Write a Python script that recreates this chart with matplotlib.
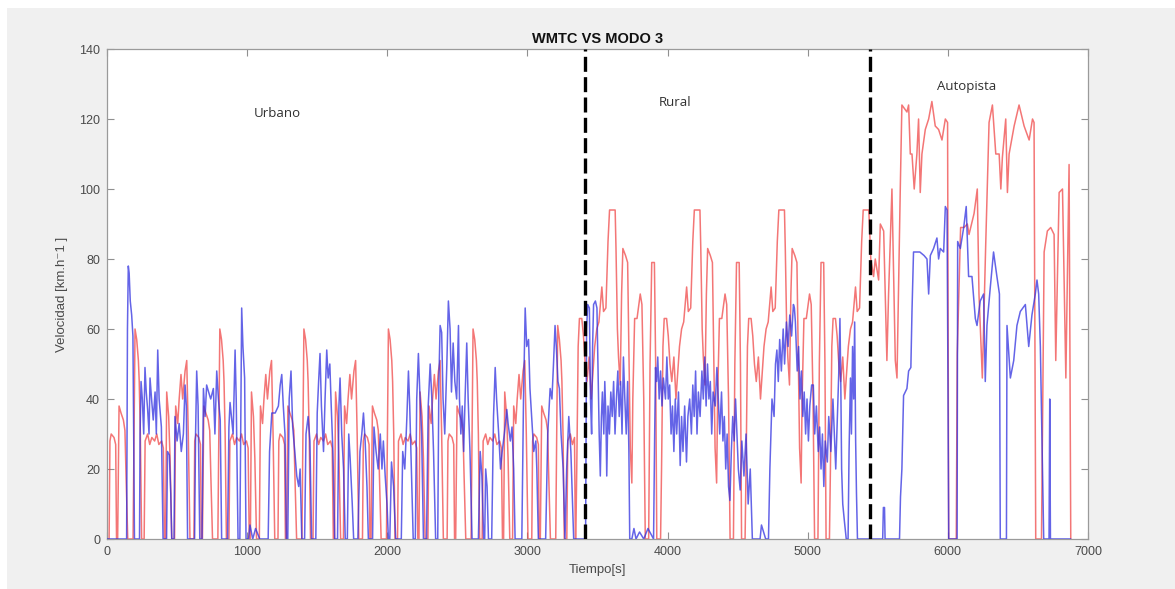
import matplotlib
matplotlib.use("Agg")
import matplotlib.pyplot as plt
from matplotlib.patches import Rectangle

# ---------------- data: (time [s], speed [km/h]) ----------------
red_urban = [
    (0, 0), (15, 0), (21, 28), (30, 30), (50, 29), (62, 27), (68, 0), (76, 0), (86, 38), (100, 36), (117, 34), (128, 31), (136, 18), (148, 0), (186, 0), (200, 60), (212, 57), (224, 51), (230, 45), (238, 30), (247, 0), (265, 0), (272, 28), (290, 30), (305, 27), (320, 29), (340, 28), (355, 30), (370, 27), (390, 28), (402, 26), (410, 0), (418, 0), (426, 42), (440, 35), (450, 23), (462, 0), (482, 0), (490, 38), (505, 33), (515, 40), (528, 47), (540, 40), (557, 48), (569, 51), (580, 30), (592, 0),
    (605, 0), (620, 0), (626, 28), (635, 30), (655, 29), (667, 27), (673, 0), (681, 0), (691, 38), (705, 36), (722, 34), (733, 31), (741, 18), (753, 0), (791, 0), (805, 60), (817, 57), (829, 51), (835, 45), (843, 30), (852, 0), (870, 0), (877, 28), (895, 30), (910, 27), (925, 29), (945, 28), (960, 30), (975, 27), (995, 28), (1007, 26), (1015, 0), (1023, 0), (1031, 42), (1045, 35), (1055, 23), (1067, 0), (1087, 0), (1095, 38), (1110, 33), (1120, 40), (1133, 47), (1145, 40), (1162, 48), (1174, 51), (1185, 30), (1197, 0),
    (1205, 0), (1220, 0), (1226, 28), (1235, 30), (1255, 29), (1267, 27), (1273, 0), (1281, 0), (1291, 38), (1305, 36), (1322, 34), (1333, 31), (1341, 18), (1353, 0), (1391, 0), (1405, 60), (1417, 57), (1429, 51), (1435, 45), (1443, 30), (1452, 0), (1470, 0), (1477, 28), (1495, 30), (1510, 27), (1525, 29), (1545, 28), (1560, 30), (1575, 27), (1595, 28), (1607, 26), (1615, 0), (1623, 0), (1631, 42), (1645, 35), (1655, 23), (1667, 0), (1687, 0), (1695, 38), (1710, 33), (1720, 40), (1733, 47), (1745, 40), (1762, 48), (1774, 51), (1785, 30), (1797, 0),
    (1808, 0), (1823, 0), (1829, 28), (1838, 30), (1858, 29), (1870, 27), (1876, 0), (1884, 0), (1894, 38), (1908, 36), (1925, 34), (1936, 31), (1944, 18), (1956, 0), (1994, 0), (2008, 60), (2020, 57), (2032, 51), (2038, 45), (2046, 30), (2055, 0), (2073, 0), (2080, 28), (2098, 30), (2113, 27), (2128, 29), (2148, 28), (2163, 30), (2178, 27), (2198, 28), (2210, 26), (2218, 0), (2226, 0), (2234, 42), (2248, 35), (2258, 23), (2270, 0), (2290, 0), (2298, 38), (2313, 33), (2323, 40), (2336, 47), (2348, 40), (2365, 48), (2377, 51), (2388, 30), (2400, 0),
    (2412, 0), (2427, 0), (2433, 28), (2442, 30), (2462, 29), (2474, 27), (2480, 0), (2488, 0), (2498, 38), (2512, 36), (2529, 34), (2540, 31), (2548, 18), (2560, 0), (2598, 0), (2612, 60), (2624, 57), (2636, 51), (2642, 45), (2650, 30), (2659, 0), (2677, 0), (2684, 28), (2702, 30), (2717, 27), (2732, 29), (2752, 28), (2767, 30), (2782, 27), (2802, 28), (2814, 26), (2822, 0), (2830, 0), (2838, 42), (2852, 35), (2862, 23), (2874, 0), (2894, 0), (2902, 38), (2917, 33), (2927, 40), (2940, 47), (2952, 40), (2969, 48), (2981, 51), (2992, 30), (3004, 0),
    (3016, 0), (3031, 0), (3037, 28), (3046, 30), (3066, 29), (3078, 27), (3084, 0), (3092, 0), (3102, 38), (3116, 36), (3133, 34), (3144, 31), (3152, 18), (3164, 0), (3202, 0), (3216, 61), (3228, 57), (3240, 51), (3246, 45), (3254, 30), (3263, 0), (3281, 0), (3288, 28), (3306, 30), (3321, 27), (3336, 29), (3342, 0),
]
red_rural = [
    (3345, 0), (3352, 20), (3362, 55), (3371, 63), (3388, 63), (3400, 58), (3412, 50), (3425, 45), (3440, 52), (3455, 40), (3468, 48), (3480, 55), (3495, 60), (3510, 62), (3531, 72), (3543, 65), (3560, 66), (3575, 85), (3586, 94), (3626, 94), (3632, 83), (3642, 60), (3650, 52), (3662, 44), (3672, 70), (3681, 83), (3700, 81), (3715, 79), (3725, 50), (3734, 26), (3745, 16), (3752, 40), (3765, 63), (3782, 63), (3805, 70), (3817, 67), (3830, 40), (3841, 0), (3865, 0), (3875, 50), (3887, 79), (3906, 79), (3915, 50), (3923, 0),
    (3950, 0), (3957, 20), (3967, 55), (3976, 63), (3993, 63), (4005, 58), (4017, 50), (4030, 45), (4045, 52), (4060, 40), (4073, 48), (4085, 55), (4100, 60), (4115, 62), (4136, 72), (4148, 65), (4165, 66), (4180, 85), (4191, 94), (4231, 94), (4237, 83), (4247, 60), (4255, 52), (4267, 44), (4277, 70), (4286, 83), (4305, 81), (4320, 79), (4330, 50), (4339, 26), (4350, 16), (4357, 40), (4370, 63), (4387, 63), (4410, 70), (4422, 67), (4435, 40), (4446, 0), (4470, 0), (4480, 50), (4492, 79), (4511, 79), (4520, 50), (4528, 0),
    (4553, 0), (4560, 20), (4570, 55), (4579, 63), (4596, 63), (4608, 58), (4620, 50), (4633, 45), (4648, 52), (4663, 40), (4676, 48), (4688, 55), (4703, 60), (4718, 62), (4739, 72), (4751, 65), (4768, 66), (4783, 85), (4794, 94), (4834, 94), (4840, 83), (4850, 60), (4858, 52), (4870, 44), (4880, 70), (4889, 83), (4908, 81), (4923, 79), (4933, 50), (4942, 26), (4953, 16), (4960, 40), (4973, 63), (4990, 63), (5013, 70), (5025, 67), (5038, 40), (5049, 0), (5073, 0), (5083, 50), (5095, 79), (5114, 79), (5123, 50), (5131, 0),
    (5155, 0), (5162, 20), (5172, 55), (5181, 63), (5198, 63), (5210, 58), (5222, 50), (5235, 45), (5250, 52), (5265, 40), (5278, 48), (5290, 55), (5305, 60), (5320, 62), (5341, 72), (5353, 65), (5370, 66), (5385, 85), (5396, 94), (5436, 94),
]
red_highway = [
    (5450, 80), (5470, 75), (5482, 80), (5506, 74), (5518, 90), (5542, 88), (5565, 51), (5577, 70), (5601, 100), (5625, 51), (5637, 46), (5660, 99), (5672, 124), (5708, 122), (5720, 124), (5732, 110), (5744, 110), (5760, 100), (5779, 110), (5791, 120), (5803, 99), (5815, 110), (5839, 117), (5863, 120), (5886, 125), (5910, 118), (5934, 117), (5958, 114), (5982, 120), (5998, 119), (6006, 0),
    (6060, 0), (6067, 53), (6091, 89), (6115, 89), (6139, 90), (6151, 87), (6187, 93), (6210, 100), (6222, 70), (6246, 46), (6270, 84), (6294, 119), (6318, 124), (6342, 110), (6366, 110), (6378, 100), (6389, 109), (6413, 120), (6425, 99), (6437, 110), (6473, 118), (6508, 124), (6544, 118), (6580, 114), (6604, 120), (6615, 119), (6627, 0),
    (6668, 0), (6687, 82), (6710, 88), (6734, 89), (6758, 87), (6770, 51), (6794, 99), (6818, 100), (6842, 46), (6865, 107), (6877, 0),
]

blue_urban = [
    (0, 0), (140, 0), (146, 60), (152, 78), (158, 76), (166, 68), (176, 64), (185, 58), (192, 20), (196, 0), (232, 0), (236, 30), (243, 45), (252, 40), (262, 30), (271, 49), (280, 42), (290, 37), (300, 30), (307, 46), (318, 40), (330, 34), (343, 42), (352, 30), (362, 54), (372, 40), (388, 32), (400, 0), (425, 0), (432, 25), (445, 24), (455, 13), (462, 0), (478, 0), (485, 35), (500, 28), (515, 33), (530, 25), (545, 30), (557, 44), (566, 38), (575, 0),
    (625, 0), (632, 30), (640, 48), (650, 38), (662, 0), (678, 0), (688, 43), (700, 35), (711, 44), (725, 42), (740, 40), (759, 43), (770, 30), (783, 48), (795, 40), (808, 34), (818, 0), (860, 0), (870, 32), (878, 39), (890, 34), (900, 30), (914, 54), (922, 40), (935, 0), (948, 0), (954, 30), (961, 66), (970, 55), (982, 46), (992, 0), (1010, 0), (1020, 4), (1040, 0), (1060, 3), (1090, 0), (1150, 0),
    (1160, 25), (1176, 36), (1200, 36), (1223, 38), (1236, 44), (1247, 47), (1258, 38), (1270, 30), (1280, 0), (1290, 0), (1300, 40), (1313, 48), (1325, 32), (1340, 25), (1354, 18), (1368, 15), (1378, 20), (1390, 0), (1410, 0), (1420, 30), (1435, 35), (1448, 28), (1460, 0), (1490, 0), (1500, 36), (1510, 45), (1520, 53), (1530, 38), (1545, 25), (1556, 40), (1568, 54), (1578, 46), (1590, 50), (1600, 38), (1612, 25), (1625, 0), (1645, 0), (1655, 38), (1663, 46), (1675, 30), (1688, 20), (1700, 0), (1715, 0), (1725, 30), (1735, 23), (1750, 10), (1760, 0),
    (1790, 0), (1805, 25), (1818, 30), (1830, 36), (1842, 28), (1855, 15), (1865, 0), (1895, 0), (1905, 32), (1920, 25), (1935, 20), (1950, 30), (1962, 20), (1972, 28), (1985, 18), (1998, 10), (2008, 0), (2018, 0), (2030, 22), (2045, 15), (2060, 0), (2100, 0), (2110, 25), (2125, 20), (2140, 35), (2151, 48), (2160, 38), (2172, 20), (2185, 0), (2200, 0), (2210, 40), (2222, 53), (2232, 42), (2245, 30), (2258, 0), (2280, 0), (2292, 38), (2306, 50), (2318, 40), (2330, 25), (2345, 0),
    (2360, 0), (2368, 45), (2377, 61), (2388, 59), (2398, 40), (2410, 30), (2425, 50), (2436, 68), (2448, 60), (2458, 42), (2470, 56), (2482, 45), (2495, 40), (2508, 61), (2515, 40), (2525, 30), (2535, 38), (2545, 25), (2555, 40), (2567, 56), (2577, 40), (2590, 25), (2605, 0), (2650, 0), (2663, 25), (2675, 18), (2688, 0), (2695, 0), (2702, 20), (2712, 15), (2722, 0), (2745, 0), (2758, 35), (2770, 49), (2780, 40), (2795, 30), (2808, 20), (2820, 25), (2835, 30), (2853, 37), (2862, 33), (2878, 28), (2890, 32), (2902, 20), (2912, 0),
    (2960, 0), (2972, 40), (2984, 66), (2995, 55), (3008, 57), (3018, 43), (3030, 35), (3045, 25), (3060, 28), (3067, 20), (3078, 0), (3130, 0), (3145, 30), (3162, 43), (3175, 40), (3186, 50), (3197, 61), (3206, 55), (3218, 45), (3228, 43), (3240, 30), (3255, 20), (3268, 0), (3280, 20), (3295, 35), (3310, 25), (3330, 0), (3415, 0),
]
blue_rural = [
    (3422, 60), (3430, 67), (3442, 66), (3450, 40), (3458, 30), (3465, 55), (3472, 67), (3485, 68), (3496, 66), (3505, 45), (3512, 30), (3520, 18), (3528, 35), (3535, 42), (3545, 30), (3552, 45), (3560, 35), (3566, 18), (3575, 38), (3585, 30), (3595, 42), (3605, 35), (3615, 45), (3625, 30), (3635, 40), (3645, 48), (3655, 35), (3665, 45), (3675, 30), (3685, 52), (3695, 40), (3705, 30), (3715, 45), (3724, 25), (3730, 0), (3745, 0), (3760, 3), (3775, 0), (3800, 2), (3830, 0), (3860, 3), (3900, 0),
    (3908, 30), (3914, 49), (3922, 45), (3930, 52), (3940, 40), (3950, 48), (3960, 38), (3970, 46), (3985, 40), (3995, 52), (4005, 40), (4015, 44), (4025, 30), (4035, 38), (4045, 25), (4055, 40), (4065, 30), (4078, 42), (4090, 21), (4100, 35), (4110, 25), (4122, 38), (4135, 22), (4145, 35), (4158, 40), (4170, 30), (4180, 44), (4190, 35), (4200, 48), (4210, 30), (4220, 42), (4232, 35), (4245, 48), (4255, 40), (4265, 52), (4275, 38), (4285, 50), (4295, 40), (4305, 45), (4315, 30), (4325, 42), (4340, 38), (4352, 49), (4362, 40), (4372, 30), (4385, 42), (4395, 28), (4405, 35), (4415, 20), (4425, 30), (4435, 15), (4445, 11), (4455, 25), (4465, 35), (4475, 28), (4485, 40), (4495, 30), (4505, 20), (4518, 14), (4530, 28), (4545, 18), (4560, 30), (4575, 10), (4590, 20), (4605, 0), (4660, 0), (4670, 4), (4700, 0), (4720, 0),
    (4730, 20), (4745, 40), (4760, 35), (4770, 50), (4780, 54), (4790, 45), (4800, 57), (4812, 48), (4825, 60), (4835, 50), (4848, 62), (4860, 55), (4872, 64), (4885, 58), (4898, 67), (4905, 66), (4912, 62), (4925, 48), (4935, 55), (4945, 40), (4955, 48), (4965, 35), (4975, 42), (4985, 30), (4995, 40), (5005, 28), (5015, 38), (5028, 44), (5040, 44), (5050, 30), (5062, 38), (5075, 25), (5085, 32), (5095, 20), (5105, 30), (5115, 15), (5125, 28), (5140, 22), (5150, 35), (5165, 25), (5180, 40), (5190, 30), (5200, 20), (5212, 35), (5222, 48), (5230, 63), (5236, 45), (5242, 20), (5250, 10), (5262, 5), (5275, 0), (5288, 0),
    (5295, 25), (5305, 46), (5312, 30), (5320, 55), (5328, 40), (5335, 62), (5342, 28), (5348, 13), (5355, 0),
]
blue_highway = [
    (5535, 0), (5540, 9), (5548, 9), (5552, 0), (5655, 0), (5662, 12), (5672, 20), (5684, 41), (5708, 43), (5720, 48), (5736, 49), (5744, 65), (5755, 82), (5800, 82), (5830, 81), (5851, 80), (5863, 70), (5875, 81), (5898, 83), (5922, 86), (5934, 80), (5946, 83), (5970, 82), (5982, 95), (5994, 94), (6000, 50), (6006, 0),
    (6066, 0), (6070, 85), (6089, 83), (6113, 89), (6131, 95), (6148, 75), (6172, 75), (6196, 63), (6208, 61), (6231, 68), (6255, 70), (6267, 45), (6279, 61), (6303, 72), (6326, 82), (6350, 75), (6368, 70), (6374, 0),
    (6418, 0), (6422, 61), (6446, 46), (6470, 51), (6493, 61), (6517, 65), (6553, 67), (6577, 55), (6600, 64), (6624, 70), (6636, 74), (6648, 70), (6660, 55), (6684, 0), (6722, 0), (6727, 40), (6732, 0), (6875, 0),
]

# ---------------- labels ----------------
title = "WMTC VS MODO 3"
xlabel = "Tiempo[s]"
ylabel = "Velocidad [km.h\u207b1 ]"
x_ticks = [0, 1000, 2000, 3000, 4000, 5000, 6000, 7000]
y_ticks = [0, 20, 40, 60, 80, 100, 120, 140]
zone_bounds = [3410, 5441]
zone_names = ["Urbano", "Rural", "Autopista"]
zone_label_x = [1213, 4054, 6131]
zone_label_y = [121.7, 124.6, 129.4]

red = red_urban + red_rural + red_highway
blue = blue_urban + blue_rural + blue_highway
red_t = [p[0] for p in red]
red_v = [p[1] for p in red]
blue_t = [p[0] for p in blue]
blue_v = [p[1] for p in blue]

plt.rcParams['font.family'] = ['Liberation Sans', 'DejaVu Sans']

fig = plt.figure(figsize=(11.75, 5.89), dpi=100)
fig.patch.set_facecolor('white')
fig.patches.append(Rectangle((7 / 1175, 0), 1, (589 - 8) / 589, transform=fig.transFigure,
                             facecolor='#f0f0f0', edgecolor='none', zorder=-10))

ax = fig.add_axes([107 / 1175, 1 - 539 / 589, (1088 - 107) / 1175, (539 - 49) / 589])
ax.set_facecolor('white')

ax.plot(red_t, red_v, color='#f04848', lw=1.1, alpha=0.75, zorder=2)
ax.plot(blue_t, blue_v, color='#3030e0', lw=1.1, alpha=0.75, zorder=3)

for xb in zone_bounds:
    ax.axvline(xb, color='black', lw=2.4, dashes=(4.5, 1.6), zorder=5)

for name, xx, yy in zip(zone_names, zone_label_x, zone_label_y):
    ax.text(xx, yy, name, ha='center', va='center', fontsize=9.5,
            family=['Open Sans', 'DejaVu Sans'], color='#303030')

ax.set_xlim(0, 7000)
ax.set_ylim(0, 140)
ax.set_xticks(x_ticks)
ax.set_yticks(y_ticks)
ax.tick_params(direction='in', length=5, width=0.8, colors='#909090', labelcolor='#4a4a4a',
               labelsize=9, top=True, right=True, pad=5)
for s in ax.spines.values():
    s.set_color('#9a9a9a')
    s.set_linewidth(0.9)

ax.set_title(title, fontsize=10.5, fontweight='bold', color='#111111', pad=4)
ax.set_xlabel(xlabel, fontsize=9.5, color='#4a4a4a', labelpad=4)
ax.set_ylabel(ylabel, fontsize=9.5, color='#4a4a4a', labelpad=8)

fig.savefig('out.png', dpi=100, facecolor=fig.get_facecolor())
